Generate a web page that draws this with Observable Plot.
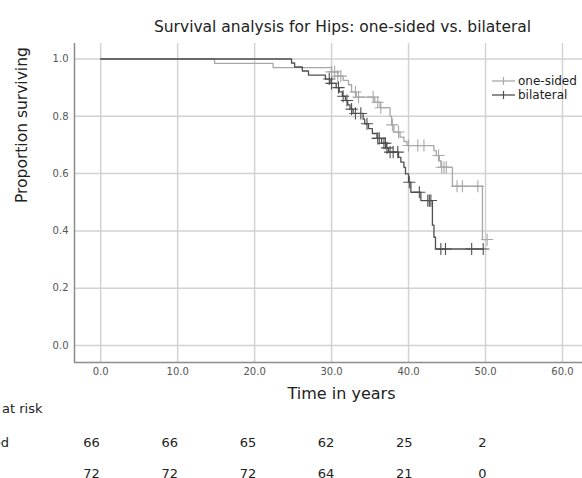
<!DOCTYPE html>
<html><head><meta charset="utf-8">
<script src="https://cdn.jsdelivr.net/npm/d3@7"></script>
<script src="https://cdn.jsdelivr.net/npm/@observablehq/plot@0.6"></script>
<style>
body{margin:0;background:#fff;font-family:"DejaVu Sans",Verdana,sans-serif;}
#wrap{position:relative;width:582px;height:478px;overflow:hidden;background:#fff;}
#wrap svg.main, #wrap svg.risk{position:absolute;left:0;}
.lg{position:absolute;left:492px;height:14px;font-size:12px;color:#222;white-space:nowrap;line-height:14px;}
.lg svg{vertical-align:top;margin-right:2px;}
</style></head><body><div id="wrap"></div>
<script>
// ---- data ----
const seriesNames = ["one-sided", "bilateral"];
const seriesColors = ["#a8a8a8", "#4f4f4f"];

const oneSidedTime = [0, 14.8, 22.4, 30.0, 30.8, 31.5, 32.2, 32.6, 33.2, 35.6, 36.3, 37.6, 37.8, 38.1, 38.9, 39.4, 39.8, 43.3, 43.6, 44.0, 44.2, 45.7, 49.6];
const oneSidedSurv = [1.0, 0.985, 0.970, 0.955, 0.94, 0.925, 0.91, 0.885, 0.867, 0.849, 0.83, 0.80, 0.77, 0.745, 0.727, 0.712, 0.698, 0.68, 0.663, 0.645, 0.622, 0.556, 0.37];
const oneSidedEnd = 50.2;
const oneSidedCensor = [30.0, 30.4, 30.8, 31.2, 33.1, 33.5, 35.4, 36.0, 36.4, 37.9, 38.7, 40.0, 41.2, 42.0, 43.9, 44.3, 44.6, 44.9, 46.3, 47.0, 49.0, 50.2];

const bilateralTime = [0, 24.8, 25.2, 26.2, 27.0, 29.2, 29.8, 30.6, 31.0, 31.4, 31.8, 32.1, 32.4, 32.8, 34.1, 34.3, 34.8, 35.3, 35.9, 36.5, 37.1, 37.4, 38.7, 39.0, 39.4, 39.6, 40.0, 40.3, 41.6, 43.1, 43.3, 43.5];
const bilateralSurv = [1.0, 0.986, 0.972, 0.958, 0.944, 0.93, 0.915, 0.90, 0.885, 0.87, 0.855, 0.84, 0.825, 0.81, 0.79, 0.774, 0.757, 0.74, 0.723, 0.706, 0.69, 0.675, 0.657, 0.64, 0.622, 0.599, 0.57, 0.535, 0.506, 0.42, 0.378, 0.337];
const bilateralEnd = 49.7;
const bilateralCensor = [29.7, 30.0, 30.9, 31.5, 32.0, 32.6, 33.1, 33.8, 34.6, 36.0, 36.2, 36.8, 37.0, 37.2, 37.6, 38.0, 38.6, 40.1, 41.4, 42.5, 42.7, 42.9, 44.2, 44.8, 48.2, 49.7];

const xTicks = [0, 10, 20, 30, 40, 50, 60];
const yTicks = [0, 0.2, 0.4, 0.6, 0.8, 1.0];
const xDomain = [-3.4, 62.6];
const yDomain = [-0.059, 1.054];

const riskTimes = [0, 10, 20, 30, 40, 50];
const riskOneSided = [66, 66, 65, 62, 25, 2];
const riskBilateral = [72, 72, 72, 64, 21, 0];

const titleText = "Survival analysis for Hips: one-sided vs. bilateral";
const xLabel = "Time in years";
const yLabel = "Proportion surviving";
const riskHeader = "Number at risk";

// ---- build tables ----
function survAt(times, surv, t) {
  let s = surv[0];
  for (let i = 0; i < times.length; i++) if (times[i] <= t) s = surv[i];
  return s;
}
function curve(name, times, surv, end) {
  const rows = times.map((t, i) => ({group: name, t, s: surv[i]}));
  rows.push({group: name, t: end, s: surv[surv.length - 1]});
  return rows;
}
function censors(name, cs, times, surv) {
  return cs.map(t => ({group: name, t, s: survAt(times, surv, t)}));
}
const oneCurve = curve("one-sided", oneSidedTime, oneSidedSurv, oneSidedEnd);
const biCurve = curve("bilateral", bilateralTime, bilateralSurv, bilateralEnd);
const oneCens = censors("one-sided", oneSidedCensor, oneSidedTime, oneSidedSurv);
const biCens = censors("bilateral", bilateralCensor, bilateralTime, bilateralSurv);

const font = "DejaVu Sans";
const color = {domain: seriesNames, range: seriesColors};

const main = Plot.plot({
  width: 582, height: 420,
  marginTop: 43, marginLeft: 74, marginRight: 0, marginBottom: 58,
  style: {background: "transparent", fontFamily: font},
  x: {domain: xDomain},
  y: {domain: yDomain},
  color,
  marks: [
    Plot.gridX(xTicks, {stroke: "#d2d2d2", strokeOpacity: 1, strokeWidth: 1.5}),
    Plot.gridY(yTicks, {stroke: "#d2d2d2", strokeOpacity: 1, strokeWidth: 1.5}),
    Plot.ruleX([xDomain[0]], {stroke: "#8c8c8c", strokeWidth: 1.5}),
    Plot.ruleY([yDomain[0]], {stroke: "#8c8c8c", strokeWidth: 1.5}),
    Plot.axisX(xTicks, {tickSize: 0, tickPadding: 5, tickFormat: d3.format(".1f"), fontSize: 10, fill: "#555", label: null}),
    Plot.axisY(yTicks, {tickSize: 0, tickPadding: 6, tickFormat: d3.format(".1f"), fontSize: 10, fill: "#555", label: null}),
    Plot.line(oneCurve, {x: "t", y: "s", stroke: "group", curve: "step-after", strokeWidth: 1.3}),
    Plot.dot(oneCens, {x: "t", y: "s", stroke: "group", symbol: "plus", r: 4, strokeWidth: 1.1}),
    Plot.line(biCurve, {x: "t", y: "s", stroke: "group", curve: "step-after", strokeWidth: 1.3}),
    Plot.dot(biCens, {x: "t", y: "s", stroke: "group", symbol: "plus", r: 4, strokeWidth: 1.1}),
    Plot.text([titleText], {frameAnchor: "top", dx: 14, dy: -23, fontSize: 15.5, fill: "#222"}),
    Plot.text([xLabel], {frameAnchor: "bottom", dx: 13, dy: 36, fontSize: 16, fill: "#222"}),
    Plot.text([yLabel], {frameAnchor: "left", dx: -52, rotate: -90, fontSize: 15.5, fill: "#222"})
  ]
});
main.classList.add("main");
main.style.top = "0px";

const riskRows = [
  ...riskTimes.map((t, i) => ({row: "one-sided", t, n: riskOneSided[i]})),
  ...riskTimes.map((t, i) => ({row: "bilateral", t, n: riskBilateral[i]}))
];
const risk = Plot.plot({
  width: 582, height: 98,
  margin: 0,
  style: {background: "transparent", fontFamily: font},
  x: {domain: [0, 50], range: [91, 482], axis: null},
  y: {domain: seriesNames, range: [62, 93], type: "point", padding: 0, axis: null},
  marks: [
    Plot.text(riskRows, {x: "t", y: "row", text: d => String(d.n), fontSize: 13, fill: "#222"}),
    Plot.text([riskHeader], {frameAnchor: "top-left", dx: 42, dy: 28, textAnchor: "end", lineAnchor: "middle", fontSize: 13, fill: "#222"}),
    Plot.text(seriesNames, {y: d => d, frameAnchor: "left", dx: 8.5, textAnchor: "end", fontSize: 13, fill: "#222", filter: (d, i) => i === 0}),
    Plot.text(seriesNames, {y: d => d, frameAnchor: "left", dx: -4, textAnchor: "end", fontSize: 13, fill: "#222", filter: (d, i) => i === 1})
  ]
});
risk.classList.add("risk");
risk.style.top = "380px";

const wrap = document.getElementById("wrap");
wrap.appendChild(main);
wrap.appendChild(risk);

// legend
const lgTops = [74, 88];
seriesNames.forEach((name, i) => {
  const div = document.createElement("div");
  div.className = "lg";
  div.style.top = lgTops[i] + "px";
  const c = seriesColors[i];
  div.innerHTML = `<svg width="24" height="14"><line x1="0" y1="7" x2="23" y2="7" stroke="${c}" stroke-width="1.3"/><line x1="11.5" y1="3" x2="11.5" y2="11" stroke="${c}" stroke-width="1.2"/></svg>${name}`;
  wrap.appendChild(div);
});
</script></body></html>
